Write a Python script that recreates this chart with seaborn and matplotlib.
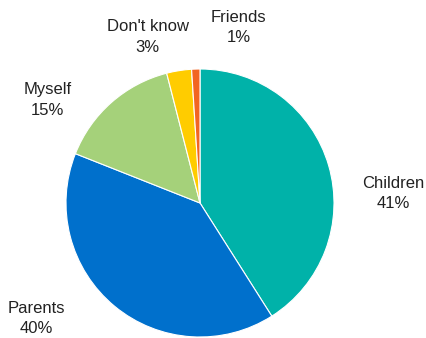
import matplotlib
matplotlib.use("Agg")
import matplotlib.pyplot as plt
import seaborn as sns

categories = ["Children", "Parents", "Myself", "Don't know", "Friends"]
values = [41, 40, 15, 3, 1]
colors = ["#00B2A9", "#0070CC", "#A5D17A", "#FFCC00", "#F26522"]

sns.set_theme(style="white")
plt.rcParams['font.family'] = ['Liberation Sans', 'DejaVu Sans']

fig = plt.figure(figsize=(4.26, 3.38), dpi=100)
W, H = 426, 338
cx, cy, r = 200, 203, 134
ax = fig.add_axes([(cx - r) / W, (H - cy - r) / H, 2 * r / W, 2 * r / H])

wedges, _ = ax.pie(values, colors=sns.color_palette(colors), startangle=90, counterclock=False,
                   radius=1, wedgeprops=dict(edgecolor="white", linewidth=0.8))
ax.set_xlim(-1, 1)
ax.set_ylim(-1, 1)
ax.set_aspect("equal")
ax.axis("off")

label_pos = [(1.44, 0.07), (-1.22, -0.86), (-1.14, 0.77), (-0.39, 1.24), (0.29, 1.31)]
for cat, v, (x, y) in zip(categories, values, label_pos):
    ax.text(x, y, f"{cat}\n{v}%", ha="center", va="center", fontsize=12,
            color="#222222", linespacing=1.45, clip_on=False)

fig.savefig("out.png", dpi=100)
